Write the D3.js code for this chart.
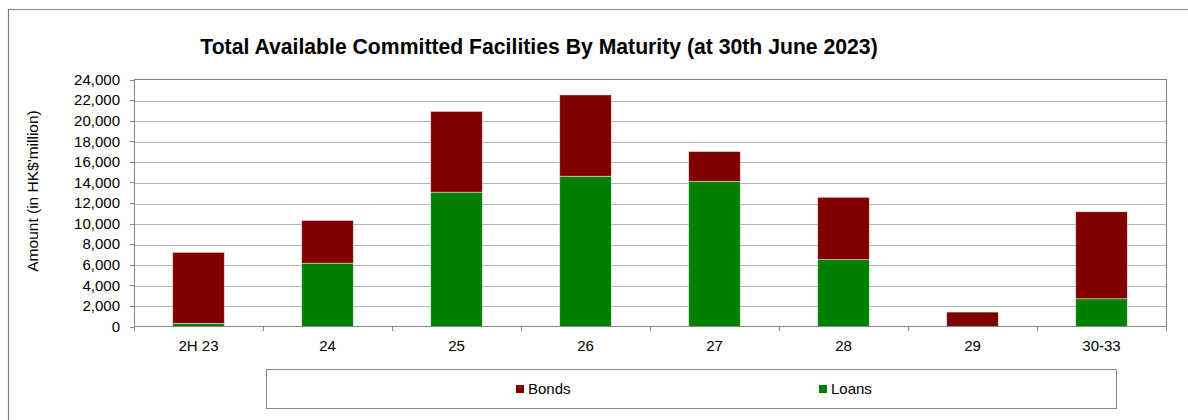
<!DOCTYPE html>
<meta charset="utf-8">
<style>
body { margin: 0; background: #fff; }
svg { font-family: "Liberation Sans", Arial, sans-serif; }
.grid line { stroke: #b3b3b3; stroke-width: 1px; shape-rendering: crispEdges; }
.axis path, .axis line { stroke: #888; shape-rendering: crispEdges; }
.axis text { font-size: 15px; fill: #000; }
</style>
<body>
<div id="chart"></div>
</body>
<script src="https://d3js.org/d3.v7.min.js"></script>
<script>

var categories = ["2H 23", "24", "25", "26", "27", "28", "29", "30-33"];
var loans = [300, 6150, 13050, 14600, 14100, 6500, 0, 2700];
var bonds = [6900, 4150, 7850, 7900, 2900, 6050, 1400, 8450];
var seriesNames = ["Bonds", "Loans"];
var yTicks = [0, 2000, 4000, 6000, 8000, 10000, 12000, 14000, 16000, 18000, 20000, 22000, 24000];

var W = 1188, H = 420;
var margin = {top: 79.5, right: 22, bottom: 93.5, left: 134};
var width = W - margin.left - margin.right,
    height = H - margin.top - margin.bottom;

var colors = d3.scaleOrdinal().domain(seriesNames).range(["#800000", "#008000"]);

var svg = d3.select("#chart").append("svg")
    .attr("width", W)
    .attr("height", H);

// outer frame (runs off the right/bottom edges)
svg.append("path")
    .attr("d", "M8.5," + (H + 2) + "V9.5H" + (W + 2))
    .attr("fill", "none")
    .attr("stroke", "#808080")
    .attr("stroke-width", 1.2);

var g = svg.append("g")
    .attr("transform", "translate(" + margin.left + "," + margin.top + ")");

var x = d3.scaleBand().domain(categories).range([0, width]).paddingInner(0.6).paddingOuter(0.3);
var xEdge = d3.scaleLinear().domain([0, categories.length]).range([0, width]);
var y = d3.scaleLinear().domain([0, 24000]).range([height, 0]);

// gridlines
g.append("g").attr("class", "grid")
  .selectAll("line")
  .data(yTicks.slice(1, -1))
  .enter().append("line")
    .attr("x1", 0)
    .attr("x2", width)
    .attr("y1", function(d) { return Math.round(y(d)) + 0.5; })
    .attr("y2", function(d) { return Math.round(y(d)) + 0.5; });

// plot frame top/right
g.append("path")
    .attr("d", "M0," + y(24000) + "H" + width + "V" + height)
    .attr("fill", "none")
    .attr("stroke", "#808080")
    .attr("shape-rendering", "crispEdges");

// stacked bars
var rows = categories.map(function(c, i) { return {cat: c, Loans: loans[i], Bonds: bonds[i]}; });
var stack = d3.stack().keys(["Loans", "Bonds"]);
var layers = stack(rows);

g.selectAll(".layer")
  .data(layers)
  .enter().append("g")
    .attr("class", "layer")
    .attr("fill", function(d) { return colors(d.key); })
  .selectAll("rect")
  .data(function(d) { return d.filter(function(p) { return p[1] - p[0] > 0; }); })
  .enter().append("rect")
    .attr("x", function(d) { return x(d.data.cat); })
    .attr("width", x.bandwidth())
    .attr("y", function(d) { return y(d[1]); })
    .attr("height", function(d) { return y(d[0]) - y(d[1]); })
    .attr("stroke", "rgba(255,255,255,0.55)")
    .attr("stroke-width", 0.8);

// y axis
var yAxis = d3.axisLeft(y).tickValues(yTicks).tickSize(4).tickPadding(10)
    .tickFormat(d3.format(","));
g.append("g").attr("class", "axis y")
    .call(yAxis)
  .select(".domain").attr("d", "M0.5," + height + "V" + y(24000));

// x axis: tick marks at the band edges
var xAxisG = g.append("g").attr("class", "axis x")
    .attr("transform", "translate(0," + height + ")");
xAxisG.append("line")
    .attr("x1", 0).attr("x2", width)
    .attr("y1", 0).attr("y2", 0);
xAxisG.selectAll(".edge")
  .data(d3.range(categories.length + 1))
  .enter().append("line")
    .attr("class", "edge")
    .attr("x1", function(d) { return Math.round(xEdge(d)) + 0.5; })
    .attr("x2", function(d) { return Math.round(xEdge(d)) + 0.5; })
    .attr("y1", 0).attr("y2", 4);
xAxisG.selectAll(".lbl")
  .data(categories)
  .enter().append("text")
    .attr("class", "lbl")
    .attr("x", function(d) { return x(d) + x.bandwidth() / 2; })
    .attr("y", 24)
    .attr("text-anchor", "middle")
    .text(function(d) { return d; });

// y axis title
svg.append("text")
    .attr("transform", "translate(38,191) rotate(-90)")
    .attr("text-anchor", "middle")
    .style("font-size", "15.5px")
    .text("Amount (in HK$'million)");

// title, squeezed to the reference width
var title = svg.append("text")
    .attr("x", 539)
    .attr("y", 54)
    .attr("text-anchor", "middle")
    .style("font-weight", "bold")
    .style("font-size", "20px")
    .text("Total Available Committed Facilities By Maturity (at 30th June 2023)");
var tw = title.node().getComputedTextLength();
title.style("font-size", (20 * 678 / tw) + "px");

// legend
svg.append("rect")
    .attr("x", 266.5)
    .attr("y", 369.5)
    .attr("width", 850)
    .attr("height", 39)
    .attr("fill", "#fff")
    .attr("stroke", "#888");

var legendX = {Bonds: 516, Loans: 819};
var legend = svg.selectAll(".legend")
  .data(seriesNames)
  .enter().append("g")
    .attr("class", "legend")
    .attr("transform", function(d) { return "translate(" + legendX[d] + ",389)"; });
legend.append("rect")
    .attr("x", 0)
    .attr("y", -4)
    .attr("width", 8)
    .attr("height", 8)
    .attr("fill", function(d) { return colors(d); });
legend.append("text")
    .attr("x", 12)
    .attr("y", 0)
    .attr("dy", "0.35em")
    .style("font-size", "15px")
    .text(function(d) { return d; });

</script>
